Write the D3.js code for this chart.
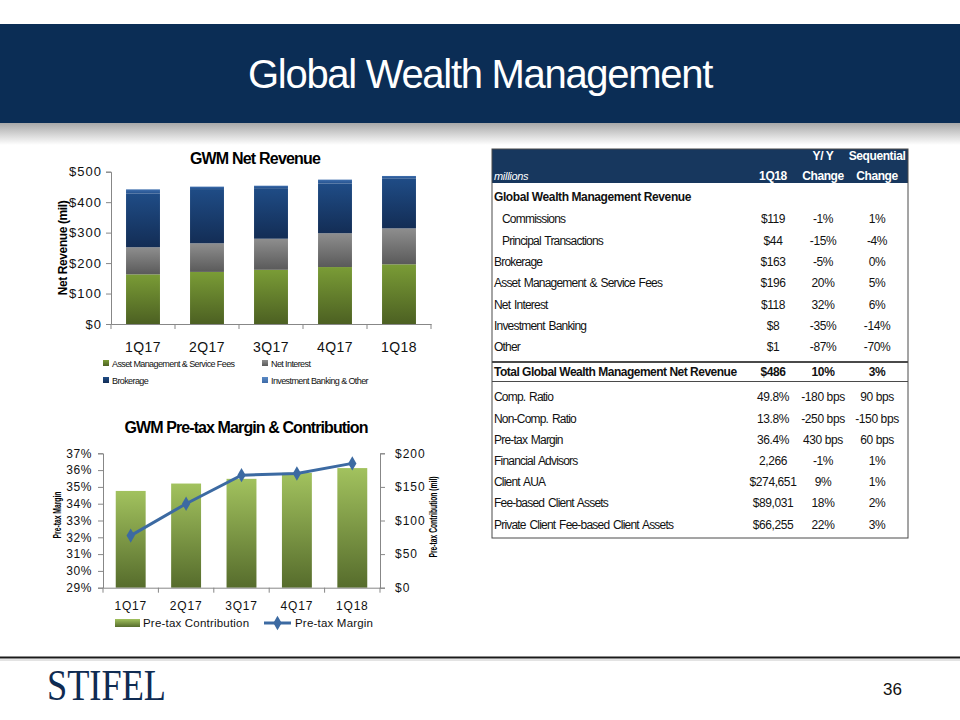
<!DOCTYPE html>
<html><head><meta charset="utf-8">
<script src="https://cdn.jsdelivr.net/npm/d3@7"></script>
<style>
html,body{margin:0;padding:0;background:#fff;}
text{font-family:"Liberation Sans",Arial,sans-serif;}
</style></head>
<body><svg id="c" width="960" height="720"></svg>
<script>
// ---------- data ----------
const quarters = ["1Q17","2Q17","3Q17","4Q17","1Q18"];
const assetMgmt   = [163,171,178,187,196];
const netInterest = [89,94,102,111,118];
const brokerage   = [176,178,166,163,163];
const ibOther     = [14,8,8,13,9];
const revenueTicks = [0,100,200,300,400,500];
const revenueSeries = ["Asset Management & Service Fees","Net Interest","Brokerage","Investment Banking & Other"];

const contribution = [144,155,162,171,178];
const pretaxMargin = [32.1,34.0,35.7,35.8,36.4];
const marginTicks = [29,30,31,32,33,34,35,36,37];
const contribTicks = [0,50,100,150,200];

const headerRow1 = ["","","Y/ Y","Sequential"];
const headerRow2 = ["millions","1Q18","Change","Change"];
const sectionTitle = "Global Wealth Management Revenue";
const revLabels = ["Commissions","Principal Transactions","Brokerage","Asset Management & Service Fees","Net Interest","Investment Banking","Other"];
const rev1Q18 = ["$119","$44","$163","$196","$118","$8","$1"];
const revYoY  = ["-1%","-15%","-5%","20%","32%","-35%","-87%"];
const revSeq  = ["1%","-4%","0%","5%","6%","-14%","-70%"];
const totalRow = ["Total Global Wealth Management Net Revenue","$486","10%","3%"];
const metricLabels = ["Comp. Ratio","Non-Comp. Ratio","Pre-tax Margin","Financial Advisors","Client AUA","Fee-based Client Assets","Private Client Fee-based Client Assets"];
const metric1Q18 = ["49.8%","13.8%","36.4%","2,266","$274,651","$89,031","$66,255"];
const metricYoY  = ["-180 bps","-250 bps","430 bps","-1%","9%","18%","22%"];
const metricSeq  = ["90 bps","-150 bps","60 bps","1%","1%","2%","3%"];

// ---------- page ----------
const svg = d3.select("#c");
const defs = svg.append("defs");
function vgrad(id, top, bottom){
  const g = defs.append("linearGradient").attr("id",id).attr("x1",0).attr("y1",0).attr("x2",0).attr("y2",1);
  g.append("stop").attr("offset","0%").attr("stop-color",top);
  g.append("stop").attr("offset","100%").attr("stop-color",bottom);
}
vgrad("gAM","#7a9c36","#4c6022");
vgrad("gNI","#8e8e8e","#5a5a5a");
vgrad("gBR","#1f4c86","#132d55");
vgrad("gIB","#3f6fae","#23508c");
vgrad("gIBL","#5a8ac6","#3d6aa6");
vgrad("gPC","#a2c25e","#566c2c");
vgrad("gShadow","#a8a8a8","#ffffff");

// title band
svg.append("rect").attr("x",0).attr("y",24).attr("width",960).attr("height",99).attr("fill","#0b2d55");
svg.append("rect").attr("x",0).attr("y",123).attr("width",960).attr("height",22).attr("fill","url(#gShadow)");
svg.append("text").attr("x",480).attr("y",88).attr("text-anchor","middle")
  .attr("fill","#fff").attr("font-size",40).attr("letter-spacing",-1.3).text("Global Wealth Management");

// footer
svg.append("line").attr("x1",0).attr("x2",960).attr("y1",657.5).attr("y2",657.5).attr("stroke","#1a1a1a").attr("stroke-width",2);
svg.append("line").attr("x1",0).attr("x2",960).attr("y1",660).attr("y2",660).attr("stroke","#c8c8c8").attr("stroke-width",1);
svg.append("text").attr("x",47).attr("y",700).attr("fill","#0f2b52")
  .style("font-family","'Liberation Serif','Times New Roman',serif").attr("font-size",44)
  .attr("textLength",119).attr("lengthAdjust","spacingAndGlyphs").text("STIFEL");
svg.append("text").attr("x",902).attr("y",695).attr("text-anchor","end").attr("font-size",17).attr("fill","#111").text("36");

const axisColor = "#878787";
function styleAxis(g){
  g.select(".domain").attr("stroke",axisColor);
  g.selectAll(".tick line").attr("stroke",axisColor);
  g.selectAll(".tick text").attr("fill","#111").style("font-family","'Liberation Sans',Arial,sans-serif");
}

// ---------- chart 1 : GWM Net Revenue ----------
(function(){
  const x = d3.scaleBand().domain(quarters).range([111,431]).paddingInner(0.47).paddingOuter(0.235);
  const y = d3.scaleLinear().domain([0,500]).range([324,171.7]);
  const g = svg.append("g");
  g.append("text").attr("x",255).attr("y",164).attr("text-anchor","middle")
    .attr("font-size",16).attr("font-weight","bold").attr("letter-spacing",-0.8).text("GWM Net Revenue");

  const rows = quarters.map((q,i)=>({q, vals:[assetMgmt[i],netInterest[i],brokerage[i],ibOther[i]]}));
  const stack = d3.stack().keys([0,1,2,3]).value((d,k)=>d.vals[k])(rows);
  const fills = ["url(#gAM)","url(#gNI)","url(#gBR)","url(#gIB)"];
  const legendFills = ["url(#gAM)","url(#gNI)","url(#gBR)","url(#gIBL)"];
  g.selectAll("g.s").data(stack).join("g").attr("fill",(d,i)=>fills[i])
    .selectAll("rect").data(d=>d).join("rect")
    .attr("x",d=>x(d.data.q)).attr("width",x.bandwidth())
    .attr("y",d=>y(d[1])).attr("height",d=>y(d[0])-y(d[1]));

  const ya = g.append("g").attr("transform","translate(111,0)")
    .call(d3.axisLeft(y).tickValues(revenueTicks).tickFormat(d=>"$"+d).tickSize(5).tickPadding(4));
  ya.selectAll(".tick text").attr("font-size",13).attr("letter-spacing",1);
  styleAxis(ya);
  const xa = g.append("g").attr("transform","translate(0,324)")
    .call(d3.axisBottom(x).tickSize(0).tickPadding(18));
  xa.selectAll(".tick text").attr("font-size",14).attr("letter-spacing",0.5);
  styleAxis(xa);
  xa.selectAll("line.bnd").data(d3.range(quarters.length+1)).join("line").attr("class","bnd")
    .attr("x1",i=>111+i*x.step()).attr("x2",i=>111+i*x.step()).attr("y1",0).attr("y2",5).attr("stroke",axisColor);

  g.append("text").attr("transform","translate(67,248) rotate(-90)").attr("text-anchor","middle")
    .attr("font-size",12).attr("font-weight","bold").attr("letter-spacing",-0.4).text("Net Revenue (mil)");

  const legendPos = [[103,365],[262,365],[103,382],[262,382]];
  const lg = g.selectAll("g.lg").data(revenueSeries).join("g").attr("class","lg")
    .attr("transform",(d,i)=>`translate(${legendPos[i][0]},${legendPos[i][1]})`);
  lg.append("rect").attr("x",0).attr("y",-5).attr("width",6).attr("height",6).attr("fill",(d,i)=>legendFills[i]);
  lg.append("text").attr("x",9).attr("y",1.5).attr("font-size",9).attr("letter-spacing",-0.6).attr("fill","#111").text(d=>d);
})();

// ---------- chart 2 : Pre-tax Margin & Contribution ----------
(function(){
  const x = d3.scaleBand().domain(quarters).range([103,380]).paddingInner(0.46).paddingOuter(0.23);
  const yL = d3.scaleLinear().domain([29,37]).range([587.7,453.3]);
  const yR = d3.scaleLinear().domain([0,200]).range([587.7,453.3]);
  const g = svg.append("g");
  g.append("text").attr("x",246).attr("y",433).attr("text-anchor","middle")
    .attr("font-size",16).attr("font-weight","bold").attr("letter-spacing",-0.9).text("GWM Pre-tax Margin & Contribution");

  g.selectAll("rect.pc").data(contribution).join("rect").attr("class","pc")
    .attr("x",(d,i)=>x(quarters[i])).attr("width",x.bandwidth())
    .attr("y",d=>yR(d)).attr("height",d=>yR(0)-yR(d)).attr("fill","url(#gPC)");

  const line = d3.line().x((d,i)=>x(quarters[i])+x.bandwidth()/2).y(d=>yL(d));
  g.append("path").datum(pretaxMargin).attr("d",line).attr("fill","none").attr("stroke","#3c6aa2").attr("stroke-width",3);
  const diamond = d3.symbol().type(d3.symbolDiamond).size(60);
  g.selectAll("path.mk").data(pretaxMargin).join("path").attr("class","mk").attr("d",diamond)
    .attr("transform",(d,i)=>`translate(${x(quarters[i])+x.bandwidth()/2},${yL(d)})`).attr("fill","#3c6aa2");

  const la = g.append("g").attr("transform","translate(103,0)")
    .call(d3.axisLeft(yL).tickValues(marginTicks).tickFormat(d=>d+"%").tickSize(5).tickPadding(6));
  la.selectAll(".tick text").attr("font-size",12).attr("letter-spacing",0.6);
  styleAxis(la);
  const ra = g.append("g").attr("transform","translate(380,0)")
    .call(d3.axisRight(yR).tickValues(contribTicks).tickFormat(d=>"$"+d).tickSize(5).tickPadding(10));
  ra.selectAll(".tick text").attr("font-size",12).attr("letter-spacing",1);
  styleAxis(ra);
  const xa = g.append("g").attr("transform","translate(0,587.7)")
    .call(d3.axisBottom(x).tickSize(0).tickPadding(14));
  xa.selectAll(".tick text").attr("font-size",12).attr("letter-spacing",0.8);
  styleAxis(xa);
  xa.selectAll("line.bnd").data(d3.range(quarters.length+1)).join("line").attr("class","bnd")
    .attr("x1",i=>103+i*x.step()).attr("x2",i=>103+i*x.step()).attr("y1",0).attr("y2",5).attr("stroke",axisColor);

  g.append("text").attr("transform","translate(61,515) rotate(-90)").attr("text-anchor","middle")
    .attr("font-size",11).attr("font-weight","bold").attr("textLength",47).attr("lengthAdjust","spacingAndGlyphs").text("Pre-tax Margin");
  g.append("text").attr("transform","translate(437,517) rotate(-90)").attr("text-anchor","middle")
    .attr("font-size",11).attr("font-weight","bold").attr("textLength",81).attr("lengthAdjust","spacingAndGlyphs").text("Pre-tax Contribution (mil)");

  g.append("rect").attr("x",115).attr("y",619).attr("width",25).attr("height",8).attr("fill","url(#gPC)");
  g.append("text").attr("x",143).attr("y",627).attr("font-size",11.5).attr("letter-spacing",0.2).attr("fill","#111").text("Pre-tax Contribution");
  g.append("line").attr("x1",264).attr("x2",291).attr("y1",623).attr("y2",623).attr("stroke","#3c6aa2").attr("stroke-width",3);
  g.append("path").attr("d",diamond).attr("transform","translate(277.5,623)").attr("fill","#3c6aa2");
  g.append("text").attr("x",295).attr("y",627).attr("font-size",11.5).attr("letter-spacing",0.2).attr("fill","#111").text("Pre-tax Margin");
})();

// ---------- table ----------
(function(){
  const L = 492, R = 908, top = 149, hb = 183, bottom = 538;
  const colX = [494, 773, 823, 877];
  const t = svg.append("g");
  t.append("rect").attr("x",L).attr("y",top).attr("width",R-L).attr("height",hb-top).attr("fill","#17375e");
  t.append("rect").attr("x",L).attr("y",top).attr("width",R-L).attr("height",bottom-top).attr("fill","none").attr("stroke","#4a4a4a").attr("stroke-width",1);

  function cell(txt, col, yc, opts){
    opts = opts||{};
    const plainLabel = col===0 && !opts.bold && !opts.italic;
    const el = t.append("text").attr("x",col===0 ? colX[0]+(opts.indent||0) : colX[col]).attr("y",yc+4.3)
      .attr("text-anchor",col===0?"start":"middle").attr("font-size",opts.size||12)
      .attr("fill",opts.fill||"#111").attr("letter-spacing",col===0?(opts.ls!==undefined?opts.ls:-0.8):-0.4)
      .attr("word-spacing",plainLabel?1.2:0).text(txt);
    if(opts.bold) el.attr("font-weight","bold");
    if(opts.italic) el.attr("font-style","italic");
    return el;
  }
  headerRow1.forEach((h,i)=>{ if(h) cell(h,i,156,{bold:true,fill:"#fff"}); });
  headerRow2.forEach((h,i)=>{ if(i===0) cell(h,0,176,{italic:true,fill:"#fff",size:11,ls:-0.3}); else cell(h,i,176,{bold:true,fill:"#fff"}); });

  cell(sectionTitle,0,197,{bold:true,ls:-0.4});
  const rowStep = 21.35;
  revLabels.forEach((lab,i)=>{
    const yc = 219 + i*rowStep;
    cell(lab,0,yc,{indent: i<2 ? 8 : 0});
    cell(rev1Q18[i],1,yc); cell(revYoY[i],2,yc); cell(revSeq[i],3,yc);
  });
  t.append("line").attr("x1",L).attr("x2",R).attr("y1",362).attr("y2",362).attr("stroke","#4a4a4a").attr("stroke-width",2);
  totalRow.forEach((v,i)=>cell(v,i,372,{bold:true,ls:i===0?-0.5:-0.2}));
  t.append("line").attr("x1",L).attr("x2",R).attr("y1",381.5).attr("y2",381.5).attr("stroke","#4a4a4a").attr("stroke-width",1);
  metricLabels.forEach((lab,i)=>{
    const yc = 397 + i*21.2;
    cell(lab,0,yc); cell(metric1Q18[i],1,yc); cell(metricYoY[i],2,yc); cell(metricSeq[i],3,yc);
  });
})();
</script></body></html>
